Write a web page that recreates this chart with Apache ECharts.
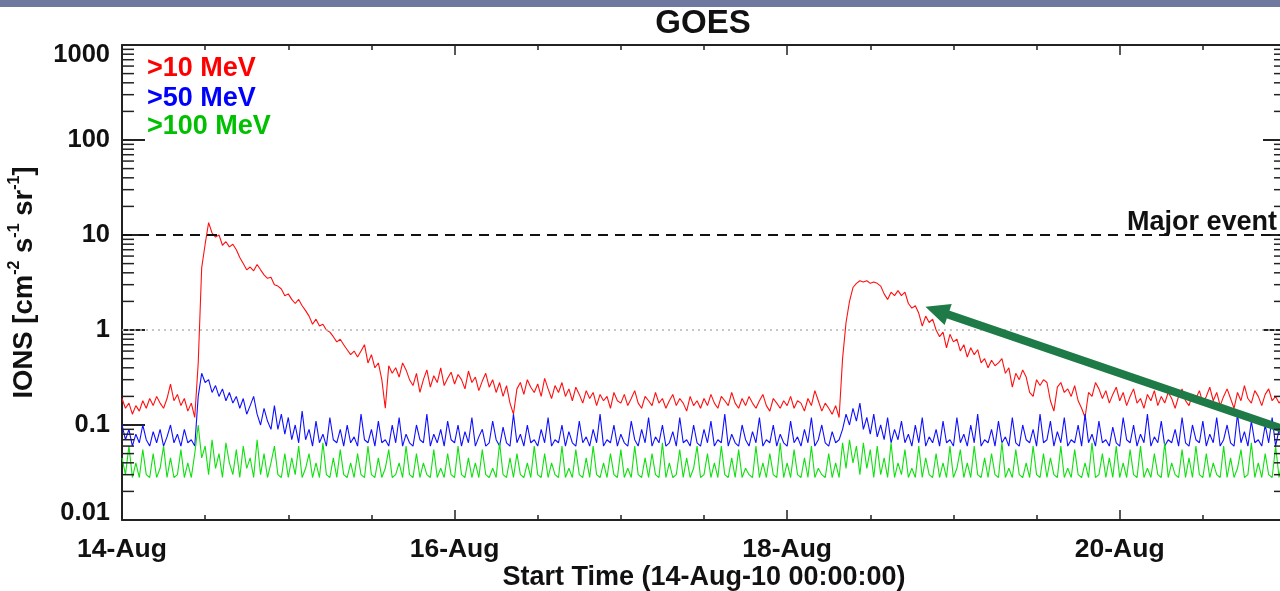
<!DOCTYPE html>
<html><head><meta charset="utf-8">
<script src="https://cdn.jsdelivr.net/npm/echarts@6/dist/echarts.min.js"></script>
<style>html,body{margin:0;padding:0;background:#fff;overflow:hidden}#c{width:1280px;height:591px}</style>
</head><body><div id="c"></div><script>
// ---- data (sampled every 30 minutes from 14-Aug-10 00:00:00) ----
const stepDays = 1 / 48;
const xTickLabels = ['14-Aug', '15-Aug', '16-Aug', '17-Aug', '18-Aug', '19-Aug', '20-Aug', '21-Aug'];
const yTickLabels = ['0.01', '0.1', '1', '10', '100', '1000'];
const seriesNames = ['>10 MeV', '>50 MeV', '>100 MeV'];
const xRangeDays = [0, 7];
const majorEventLevel = 10;
const referenceLevel = 1;
const arrowFrom = [7.0, 0.0885];
const arrowTo = [4.9, 1.6];

const red = [
0.19,0.15,0.17,0.13,0.16,0.14,0.18,0.15,0.19,0.16,0.2,0.17,0.15,0.19,0.27,0.18,0.21,0.16,0.19,0.14,0.17,0.12,0.45,4.5,
8,13.5,10.5,9.5,10,7.8,8.5,7.5,8,7,5.8,5,4.3,4.6,4.2,4.9,4.3,3.8,3.5,3.6,3,2.9,2.7,2.3,
2.4,2.1,1.9,2.1,1.8,1.6,1.4,1.15,1.3,1.1,1.15,1,0.95,0.85,0.75,0.8,0.7,0.62,0.55,0.6,0.52,0.6,0.7,0.45,
0.55,0.4,0.45,0.3,0.15,0.42,0.35,0.4,0.32,0.45,0.38,0.3,0.26,0.35,0.22,0.3,0.38,0.25,0.33,0.28,0.4,0.26,0.31,0.36,
0.27,0.34,0.3,0.24,0.37,0.28,0.32,0.23,0.29,0.35,0.25,0.3,0.22,0.28,0.2,0.26,0.17,0.13,0.24,0.28,0.21,0.3,0.25,0.22,
0.27,0.2,0.31,0.24,0.19,0.26,0.22,0.28,0.2,0.24,0.18,0.25,0.21,0.17,0.23,0.19,0.22,0.16,0.21,0.18,0.2,0.15,0.22,0.18,
0.17,0.21,0.16,0.19,0.23,0.17,0.15,0.2,0.18,0.16,0.22,0.17,0.19,0.15,0.18,0.21,0.16,0.19,0.17,0.14,0.2,0.16,0.18,0.15,
0.19,0.16,0.21,0.17,0.15,0.2,0.18,0.16,0.22,0.17,0.15,0.19,0.16,0.2,0.17,0.15,0.18,0.21,0.16,0.14,0.19,0.17,0.15,0.18,
0.16,0.2,0.15,0.18,0.17,0.14,0.19,0.16,0.23,0.18,0.14,0.17,0.15,0.13,0.16,0.12,0.5,1.2,2.0,2.8,3.1,3.3,3.2,3.3,
3.1,3.2,3.1,2.9,2.4,2.1,2.5,2.3,2.6,2.3,2.5,1.9,1.7,1.8,1.5,1.1,1.4,1.2,1.3,1.0,0.85,0.95,0.65,0.9,
0.75,0.8,0.6,0.7,0.52,0.65,0.55,0.62,0.45,0.5,0.4,0.48,0.42,0.45,0.5,0.35,0.4,0.25,0.35,0.3,0.38,0.32,0.22,0.2,
0.3,0.26,0.3,0.28,0.18,0.14,0.25,0.28,0.22,0.24,0.2,0.26,0.18,0.15,0.12,0.22,0.2,0.28,0.24,0.19,0.23,0.17,0.21,0.25,
0.18,0.22,0.16,0.2,0.24,0.17,0.19,0.15,0.21,0.18,0.23,0.16,0.2,0.17,0.22,0.19,0.15,0.2,0.24,0.18,0.16,0.21,0.19,0.23,
0.17,0.2,0.25,0.18,0.22,0.16,0.2,0.24,0.19,0.15,0.22,0.18,0.26,0.19,0.17,0.23,0.2,0.16,0.21,0.24,0.18,0.2,0.17,0.19,
0.2
];

const blue = [
0.1,0.07,0.09,0.06,0.08,0.065,0.1,0.07,0.06,0.085,0.065,0.09,0.06,0.075,0.1,0.065,0.08,0.06,0.09,0.065,0.07,0.06,0.2,0.35,
0.28,0.3,0.22,0.26,0.2,0.24,0.18,0.22,0.17,0.2,0.15,0.19,0.13,0.16,0.2,0.13,0.1,0.15,0.11,0.09,0.16,0.09,0.13,0.08,
0.12,0.07,0.1,0.065,0.14,0.07,0.09,0.06,0.11,0.065,0.08,0.06,0.12,0.07,0.065,0.09,0.06,0.1,0.065,0.075,0.06,0.13,0.07,0.065,
0.09,0.06,0.11,0.065,0.07,0.06,0.1,0.065,0.12,0.06,0.08,0.065,0.06,0.1,0.07,0.065,0.13,0.06,0.08,0.065,0.09,0.06,0.11,0.07,
0.065,0.1,0.06,0.085,0.065,0.12,0.06,0.075,0.09,0.06,0.065,0.11,0.07,0.06,0.095,0.065,0.06,0.13,0.065,0.08,0.06,0.1,0.065,0.07,
0.06,0.09,0.065,0.12,0.06,0.07,0.065,0.1,0.06,0.085,0.065,0.06,0.11,0.065,0.075,0.06,0.09,0.065,0.13,0.06,0.07,0.065,0.1,0.06,
0.08,0.065,0.06,0.11,0.07,0.06,0.09,0.065,0.12,0.06,0.075,0.065,0.1,0.06,0.065,0.085,0.06,0.12,0.065,0.07,0.06,0.1,0.065,0.06,
0.09,0.065,0.11,0.06,0.07,0.065,0.13,0.06,0.08,0.065,0.06,0.1,0.07,0.06,0.085,0.065,0.12,0.06,0.07,0.065,0.1,0.06,0.08,0.065,
0.06,0.11,0.065,0.075,0.06,0.09,0.065,0.12,0.06,0.07,0.1,0.065,0.06,0.085,0.065,0.07,0.09,0.13,0.1,0.15,0.11,0.17,0.09,0.12,
0.08,0.13,0.075,0.1,0.07,0.12,0.065,0.09,0.07,0.11,0.065,0.08,0.06,0.1,0.065,0.12,0.06,0.075,0.065,0.09,0.06,0.11,0.065,0.07,
0.06,0.12,0.065,0.08,0.06,0.1,0.065,0.13,0.06,0.07,0.065,0.09,0.06,0.11,0.065,0.075,0.06,0.12,0.065,0.06,0.1,0.07,0.065,0.09,
0.06,0.13,0.065,0.07,0.11,0.06,0.085,0.065,0.12,0.06,0.07,0.065,0.1,0.06,0.13,0.065,0.08,0.06,0.11,0.065,0.07,0.06,0.095,0.065,
0.06,0.12,0.07,0.065,0.1,0.06,0.08,0.065,0.13,0.06,0.075,0.065,0.11,0.06,0.07,0.065,0.09,0.06,0.12,0.065,0.06,0.1,0.07,0.065,
0.11,0.06,0.08,0.065,0.12,0.06,0.07,0.1,0.065,0.06,0.13,0.065,0.085,0.06,0.11,0.065,0.07,0.06,0.1,0.065,0.12,0.06,0.09,0.065,
0.1
];

const green = [
0.045,0.03,0.06,0.028,0.04,0.028,0.055,0.03,0.028,0.05,0.028,0.035,0.06,0.028,0.045,0.028,0.03,0.055,0.028,0.04,0.028,0.05,0.1,0.045,
0.06,0.03,0.07,0.035,0.05,0.028,0.065,0.04,0.03,0.055,0.028,0.06,0.035,0.045,0.028,0.07,0.03,0.05,0.028,0.04,0.06,0.03,0.028,0.05,
0.028,0.045,0.03,0.06,0.028,0.035,0.05,0.028,0.04,0.028,0.065,0.03,0.028,0.045,0.028,0.055,0.03,0.028,0.04,0.028,0.05,0.03,0.028,0.06,
0.03,0.028,0.045,0.028,0.035,0.055,0.028,0.03,0.04,0.028,0.06,0.03,0.028,0.05,0.028,0.04,0.03,0.028,0.055,0.028,0.035,0.028,0.05,0.03,
0.028,0.06,0.03,0.028,0.045,0.028,0.04,0.028,0.055,0.03,0.028,0.035,0.028,0.065,0.03,0.028,0.045,0.028,0.05,0.03,0.028,0.04,0.028,0.06,
0.03,0.028,0.05,0.028,0.04,0.03,0.028,0.06,0.028,0.035,0.028,0.055,0.03,0.028,0.045,0.028,0.06,0.03,0.028,0.04,0.028,0.05,0.03,0.028,
0.055,0.028,0.035,0.028,0.06,0.03,0.028,0.045,0.028,0.05,0.03,0.028,0.065,0.028,0.04,0.028,0.03,0.055,0.028,0.045,0.028,0.035,0.06,0.028,
0.03,0.05,0.028,0.04,0.028,0.06,0.03,0.028,0.045,0.028,0.055,0.028,0.035,0.03,0.028,0.06,0.028,0.04,0.028,0.05,0.03,0.028,0.065,0.028,
0.04,0.028,0.055,0.03,0.028,0.045,0.028,0.06,0.028,0.035,0.03,0.028,0.05,0.028,0.04,0.028,0.065,0.035,0.07,0.04,0.06,0.03,0.065,0.035,
0.055,0.028,0.06,0.03,0.045,0.028,0.065,0.028,0.04,0.03,0.055,0.028,0.035,0.028,0.06,0.028,0.045,0.03,0.028,0.05,0.028,0.04,0.028,0.06,
0.028,0.035,0.055,0.028,0.04,0.028,0.06,0.03,0.028,0.045,0.028,0.05,0.03,0.028,0.065,0.028,0.035,0.028,0.055,0.03,0.028,0.04,0.028,0.06,
0.03,0.028,0.05,0.028,0.045,0.03,0.028,0.06,0.028,0.035,0.028,0.055,0.03,0.028,0.04,0.028,0.065,0.028,0.03,0.05,0.028,0.045,0.028,0.06,
0.028,0.04,0.028,0.055,0.03,0.028,0.06,0.028,0.035,0.028,0.05,0.03,0.028,0.065,0.028,0.04,0.03,0.028,0.055,0.028,0.045,0.028,0.06,0.03,
0.028,0.05,0.028,0.04,0.03,0.028,0.06,0.028,0.045,0.028,0.035,0.055,0.028,0.03,0.065,0.028,0.04,0.028,0.05,0.03,0.028,0.06,0.028,0.045,
0.03
];

// ---- chart ----
const FONT = "'Liberation Sans', Arial, Helvetica, sans-serif";
const INK = '#111';
const toXY = arr => arr.map((v, i) => [i * stepDays, v]);
const minorTickValues = [];
for (let k = -2; k <= 2; k++) for (let m = 2; m <= 9; m++) minorTickValues.push([0, m * Math.pow(10, k)]);

const xFmt = v => (Math.abs(v - Math.round(v)) < 1e-6 && Math.round(v) % 2 === 0 && v < 6.5) ? xTickLabels[Math.round(v)] : '';
const yFmt = v => {
  const idx = Math.round(Math.log10(v)) + 2;
  const t = yTickLabels[idx] || '';
  if (idx === 0) return '{lo|' + t + '}';
  if (idx === yTickLabels.length - 1) return '{hi|' + t + '}';
  return '{n|' + t + '}';
};
const yLblStyle = { fontSize: 25.5, fontWeight: 'bold', color: INK, fontFamily: FONT };

function xAxisDef(pos, major) {
  return {
    type: 'value', min: xRangeDays[0], max: xRangeDays[1], interval: major ? 2 : 0.5, position: pos,
    axisLine: { show: major, onZero: false, lineStyle: { color: '#222', width: 2 } },
    axisTick: { show: true, inside: true, length: major ? 10 : 5, lineStyle: { color: '#222', width: 1.5 } },
    axisLabel: (major && pos === 'bottom') ? { show: true, formatter: xFmt, showMaxLabel: false, fontSize: 26.5, fontWeight: 'bold', color: INK, fontFamily: FONT, margin: 16 } : { show: false },
    splitLine: { show: false },
    name: (major && pos === 'bottom') ? 'Start Time (14-Aug-10 00:00:00)' : '',
    nameLocation: 'middle', nameGap: 44, nameMoveOverlap: false,
    nameTextStyle: { fontSize: 27, fontWeight: 'bold', color: INK, fontFamily: FONT }
  };
}
function yAxisDef(pos) {
  const left = pos === 'left';
  return {
    type: 'log', logBase: 10, min: 0.01, max: 1000, position: pos,
    axisLine: { show: left, onZero: false, lineStyle: { color: '#222', width: 2 } },
    axisTick: { show: true, inside: true, length: 23, lineStyle: { color: '#222', width: 2 } },
    axisLabel: left ? {
      show: true, formatter: yFmt, margin: 12, ...yLblStyle,
      rich: {
        n: { ...yLblStyle },
        lo: { ...yLblStyle, padding: [0, 0, 15, 0] },
        hi: { ...yLblStyle, padding: [20, 0, 0, 0] }
      }
    } : { show: false },
    splitLine: { show: false },
    name: left ? '{m|IONS [cm}{s|-2}{m| s}{s|-1}{m| sr}{s|-1}{m|]}' : '',
    nameLocation: 'middle', nameRotate: 90, nameGap: 84, nameMoveOverlap: false,
    nameTextStyle: {
      fontFamily: FONT, color: INK,
      rich: {
        m: { fontSize: 27.5, fontWeight: 'bold', color: INK, fontFamily: FONT, lineHeight: 31, verticalAlign: 'bottom' },
        s: { fontSize: 16, fontWeight: 'bold', color: INK, fontFamily: FONT, lineHeight: 31, verticalAlign: 'top' }
      }
    }
  };
}

const legendFont = "bold 27px 'Liberation Sans', Arial, sans-serif";
const option = {
  animation: false,
  backgroundColor: '#fff',
  title: {
    text: 'GOES', left: 703, top: 7, padding: 0, textAlign: 'center',
    textStyle: { fontSize: 33, fontWeight: 'bold', color: INK, fontFamily: FONT }
  },
  grid: { left: 122, right: -6, top: 45, bottom: 71, containLabel: false, outerBoundsMode: 'none' },
  xAxis: [xAxisDef('bottom', true), xAxisDef('bottom', false), xAxisDef('top', true), xAxisDef('top', false)],
  yAxis: [yAxisDef('left'), yAxisDef('right')],
  graphic: [
    { type: 'rect', left: 0, top: 0, shape: { width: 1280, height: 7 }, style: { fill: '#6f79a0' }, z: 100 },
    { type: 'text', left: 147, top: 55, style: { text: seriesNames[0], fill: '#ff0000', font: legendFont } },
    { type: 'text', left: 147, top: 85, style: { text: seriesNames[1], fill: '#0000ff', font: legendFont } },
    { type: 'text', left: 147, top: 113, style: { text: seriesNames[2], fill: '#00c000', font: legendFont } }
  ],
  series: [
    {
      name: seriesNames[0], type: 'line', data: toXY(red), showSymbol: false, sampling: null,
      lineStyle: { color: '#ff1010', width: 1.1 }, itemStyle: { color: '#ff0000' }, z: 3,
      markLine: {
        silent: true, symbol: 'none', animation: false,
        data: [
          { yAxis: majorEventLevel, lineStyle: { color: '#111', width: 2, type: [10, 7] },
            label: { show: true, position: 'insideEndTop', formatter: 'Major event', fontSize: 27, fontWeight: 'bold', color: INK, fontFamily: FONT, distance: [9, -1] } },
          { yAxis: referenceLevel, lineStyle: { color: '#b5b5b5', width: 1.5, type: [2, 4] }, label: { show: false } }
        ]
      }
    },
    { name: seriesNames[1], type: 'line', data: toXY(blue), showSymbol: false, sampling: null,
      lineStyle: { color: '#1010ff', width: 1.1 }, itemStyle: { color: '#0000ff' }, z: 4 },
    { name: seriesNames[2], type: 'line', data: toXY(green), showSymbol: false, sampling: null,
      lineStyle: { color: '#10e010', width: 1.1 }, itemStyle: { color: '#00cc00' }, z: 5,
      markLine: {
        silent: true, animation: false, symbol: ['none', 'triangle'], symbolSize: [22, 24],
        lineStyle: { color: '#1e7a46', width: 8, type: 'solid' }, label: { show: false },
        data: [[{ coord: arrowFrom }, { coord: arrowTo }]]
      }
    },
    {
      type: 'custom', silent: true, data: minorTickValues, z: 10, clip: false,
      renderItem: (params, api) => {
        const cs = params.coordSys;
        const y = api.coord([0, api.value(1)])[1];
        const st = { stroke: '#222', lineWidth: 1.5 };
        return { type: 'group', children: [
          { type: 'line', shape: { x1: cs.x, y1: y, x2: cs.x + 12, y2: y }, style: st },
          { type: 'line', shape: { x1: cs.x + cs.width, y1: y, x2: cs.x + cs.width - 12, y2: y }, style: st }
        ] };
      }
    }
  ]
};
const chart = echarts.init(document.getElementById('c'), null, { renderer: 'canvas' });
chart.setOption(option);
</script></body></html>
